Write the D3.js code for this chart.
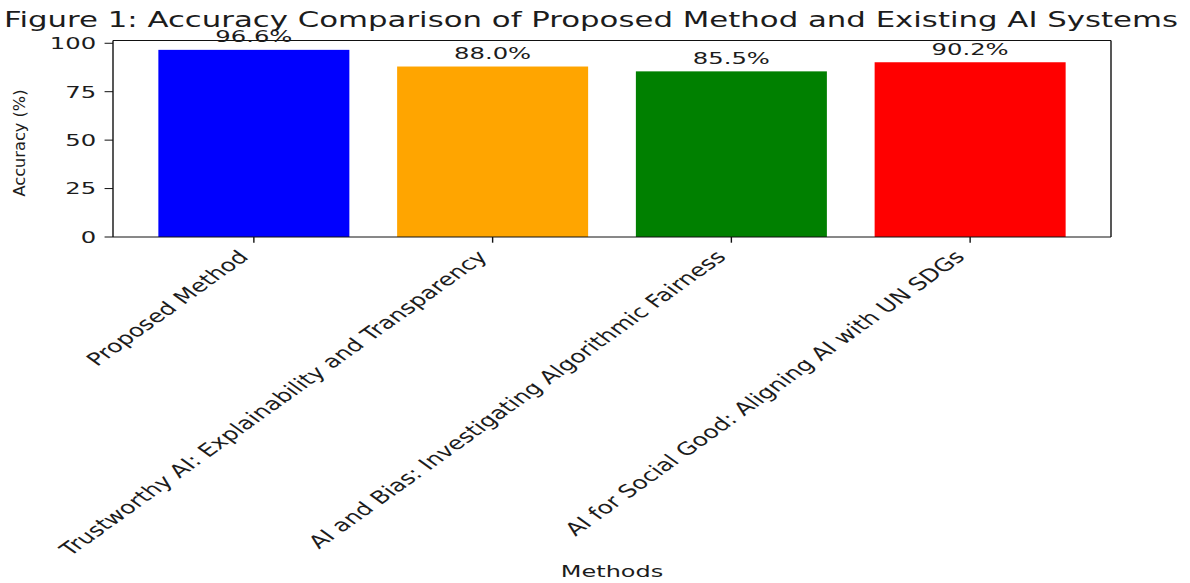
<!DOCTYPE html>
<html>
<head>
<meta charset="utf-8">
<script src="https://cdn.jsdelivr.net/npm/d3@7"></script>
<style>
  body { margin: 0; background: #fff; }
  text { font-family: "DejaVu Sans", sans-serif; fill: #1c1c1c; }
</style>
</head>
<body>
<svg id="chart" width="1190" height="583"></svg>
<script>
// ---- data ----
const methods = [
  "Proposed Method",
  "Trustworthy AI: Explainability and Transparency",
  "AI and Bias: Investigating Algorithmic Fairness",
  "AI for Social Good: Aligning AI with UN SDGs"
];
const accuracy = [96.6, 88.0, 85.5, 90.2];
const barColors = ["#0000ff", "#ffa500", "#008000", "#ff0000"];
const yTicks = [0, 25, 50, 75, 100];
const titleText = "Figure 1: Accuracy Comparison of Proposed Method and Existing AI Systems";
const xLabel = "Methods";
const yLabel = "Accuracy (%)";

// ---- layout ----
const SX = 1.48;                 // horizontal stretch applied to text
const SX_CAT = 1.40;             // stretch for the slanted category labels
const plot = { left: 113, right: 1111, top: 40.5, bottom: 237 };
const fs = { tick: 16.4, cat: 17.8, value: 16.4, title: 20.8, xlab: 16.2, ylab: 16.2 };
const tickLen = 5.7, pad = 5.7;

const svg = d3.select("#chart");

// bar positions: unit spacing, width 0.8, 5% margins on both axes
const barW = 0.8;
const lo = -barW / 2, hi = methods.length - 1 + barW / 2;
const xm = (hi - lo) * 0.05;
const x = d3.scaleLinear().domain([lo - xm, hi + xm]).range([plot.left, plot.right]);
const y = d3.scaleLinear().domain([0, d3.max(accuracy) * 1.05]).range([plot.bottom, plot.top]);

// helper: text scaled by (sx, sy), optionally rotated
function sText(g, px, py, rot, str, size, anchor, sx = SX, sy = 1) {
  return g.append("text")
    .attr("transform", `translate(${px},${py}) scale(${sx},${sy}) rotate(${rot})`)
    .attr("text-anchor", anchor)
    .style("font-size", size + "px")
    .text(str);
}

// bars
svg.append("g").selectAll("rect")
  .data(accuracy)
  .join("rect")
  .attr("x", (d, i) => x(i - barW / 2))
  .attr("width", (d, i) => x(i + barW / 2) - x(i - barW / 2))
  .attr("y", d => y(d))
  .attr("height", d => y(0) - y(d))
  .attr("fill", (d, i) => barColors[i]);

// spines
const frame = svg.append("g").attr("stroke", "#111").attr("fill", "none");
frame.append("line").attr("x1", plot.left).attr("x2", plot.right).attr("y1", plot.top).attr("y2", plot.top).attr("stroke-width", 1);
frame.append("line").attr("x1", plot.left).attr("x2", plot.right).attr("y1", plot.bottom).attr("y2", plot.bottom).attr("stroke-width", 1);
frame.append("line").attr("x1", plot.left).attr("x2", plot.left).attr("y1", plot.top).attr("y2", plot.bottom).attr("stroke-width", 1.4);
frame.append("line").attr("x1", plot.right).attr("x2", plot.right).attr("y1", plot.top).attr("y2", plot.bottom).attr("stroke-width", 1.4);

// y axis ticks + labels
const yAxis = svg.append("g");
yTicks.forEach(t => {
  yAxis.append("line")
    .attr("x1", plot.left - tickLen * SX).attr("x2", plot.left)
    .attr("y1", y(t)).attr("y2", y(t))
    .attr("stroke", "#111").attr("stroke-width", 1);
  sText(yAxis, plot.left - (tickLen + pad) * SX, y(t) + fs.tick * 0.36, 0, String(t), fs.tick, "end");
});

// x axis ticks + rotated labels (right/top aligned to the tick)
const xAxis = svg.append("g");
methods.forEach((m, i) => {
  xAxis.append("line")
    .attr("x1", x(i)).attr("x2", x(i))
    .attr("y1", plot.bottom).attr("y2", plot.bottom + tickLen)
    .attr("stroke", "#111").attr("stroke-width", 1.4);
  const ox = x(i) - 0.707 * 0.236 * fs.cat * SX_CAT;
  const oy = plot.bottom + tickLen + pad + 0.707 * 0.76 * fs.cat;
  sText(xAxis, ox, oy, -45, m, fs.cat, "end", SX_CAT, 1);
});

// value labels above bars
const vals = svg.append("g");
accuracy.forEach((v, i) => {
  sText(vals, x(i), y(v + 2) - 0.236 * fs.value, 0, v.toFixed(1) + "%", fs.value, "middle");
});

// titles
sText(svg, 591, 27, 0, titleText, fs.title, "middle");
sText(svg, (plot.left + plot.right) / 2, 577, 0, xLabel, fs.xlab, "middle");
sText(svg, 25, 143, -90, yLabel, fs.ylab, "middle", 1.0, 1.0);
</script>
</body>
</html>
